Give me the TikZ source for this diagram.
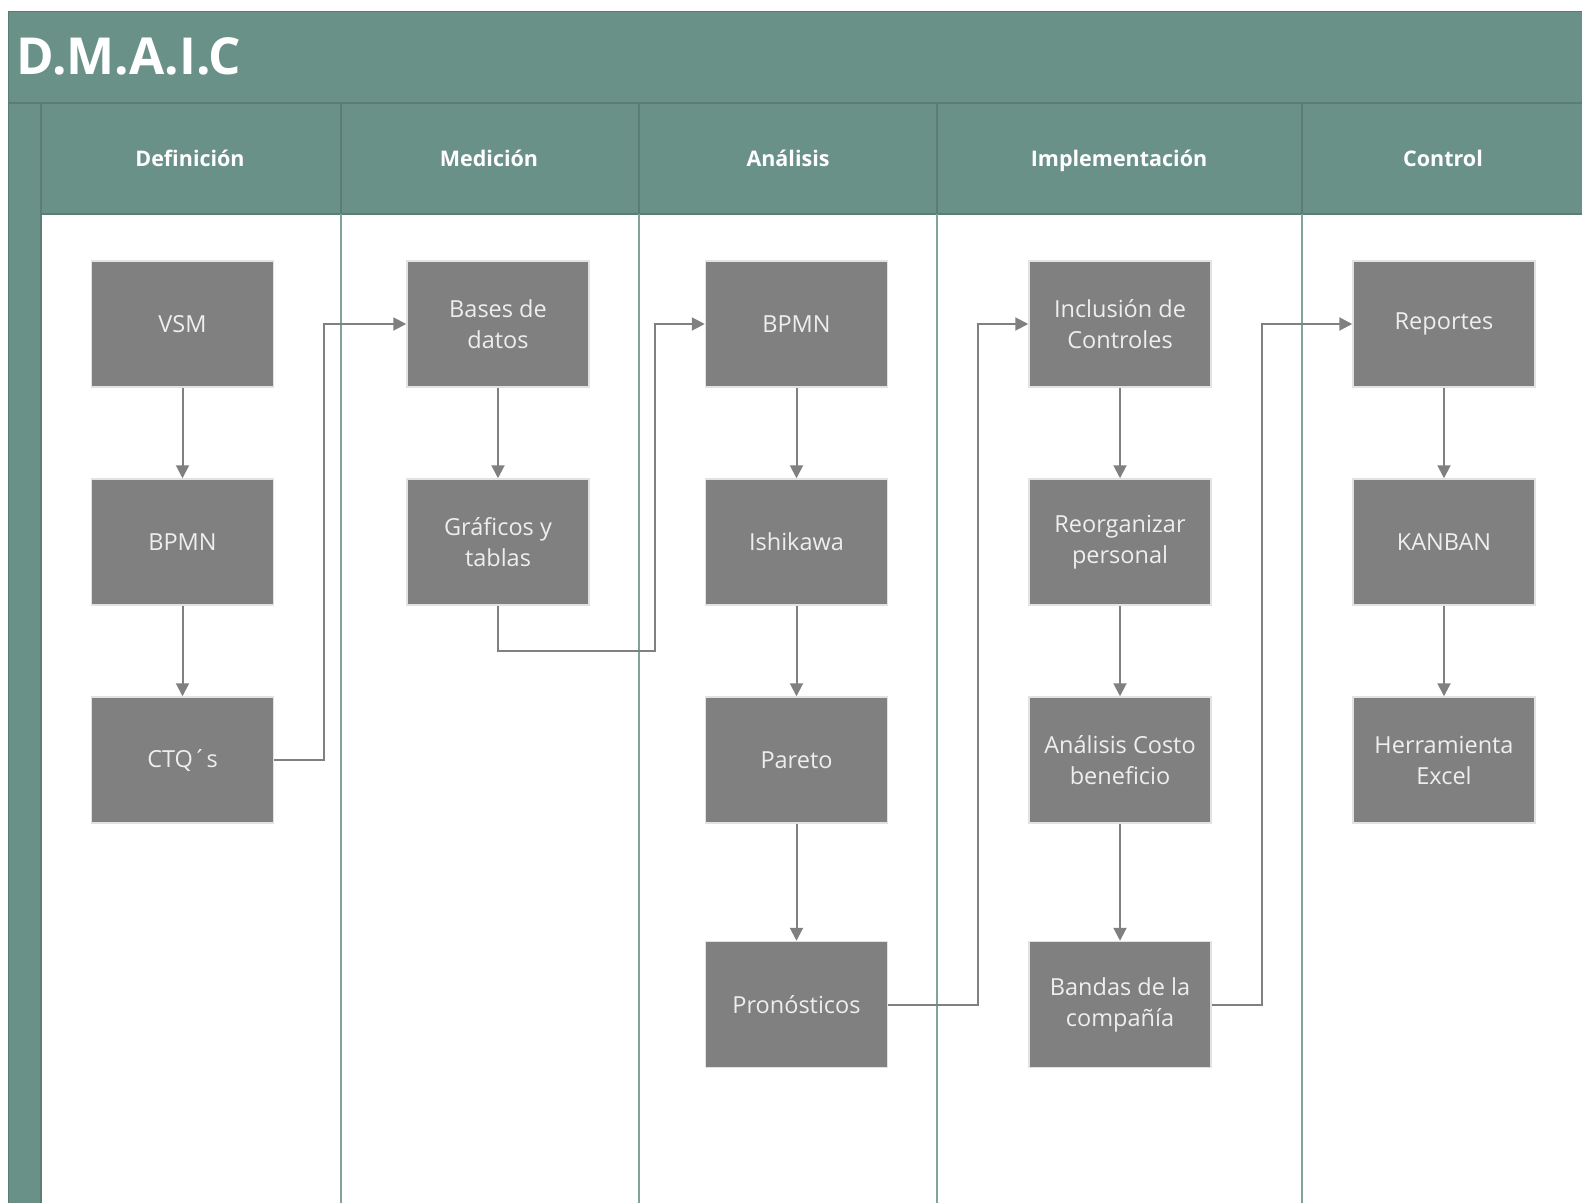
\documentclass[tikz,border=0pt]{standalone}
\usepackage{fontspec}
\setmainfont{Open Sans}
\usetikzlibrary{arrows.meta}

\definecolor{lanegreen}{RGB}{106,145,135}
\definecolor{lanegreendark}{RGB}{90,126,117}
\definecolor{laneline}{RGB}{128,164,155}
\definecolor{boxgray}{RGB}{128,128,128}
\definecolor{boxhalo}{RGB}{226,226,226}
\definecolor{boxtext}{RGB}{238,238,238}
\definecolor{wiregray}{RGB}{128,128,128}

\tikzset{
  stepbox/.style={draw=boxhalo, line width=1.5pt, fill=boxgray,
    minimum width=182pt, minimum height=126pt,
    inner sep=0pt, text=boxtext, align=center, font=\fontsize{23.5}{31}\selectfont},
  lanetitle/.style={text=white, anchor=base, font=\bfseries\fontsize{21.5}{24}\selectfont},
  wire/.style={draw=wiregray, line width=2pt},
  flow/.style={wire, -{Triangle[length=13pt,width=13pt]}},
  divider/.style={draw=laneline, line width=1.4pt},
}

\begin{document}
\begin{tikzpicture}[x=1pt,y=-1pt]
\useasboundingbox (0,0) rectangle (1582,1203);
\fill[white] (0,0) rectangle (1582,1203);

% pool frame: title band, header row and left strip
\fill[lanegreen] (8,11) rectangle (1582,103);
\fill[lanegreen] (8,103) rectangle (41,1203);
\fill[lanegreen] (41,103) rectangle (1582,214);
\draw[lanegreendark, line width=1pt] (1582,11) -- (8,11) -- (8,1203);
\draw[lanegreendark, line width=1.2pt] (8,103) -- (1582,103);
\draw[lanegreendark, line width=1.2pt] (41,103) -- (41,1203);
\draw[lanegreendark, line width=1.2pt] (41,214) -- (1582,214);

% lane separators
\foreach \x in {341,639,937,1302} {
  \draw[lanegreendark, line width=1.2pt] (\x,103) -- (\x,214);
  \draw[divider] (\x,214) -- (\x,1203);
}

\node[anchor=west, text=white, font=\bfseries\fontsize{51}{56}\selectfont] (title) at (13,56) {D.M.A.I.C};

\node[lanetitle] (h1) at (190,166) {Definición};
\node[lanetitle] (h2) at (489,166) {Medición};
\node[lanetitle] (h3) at (788,166) {Análisis};
\node[lanetitle] (h4) at (1119,166) {Implementación};
\node[lanetitle] (h5) at (1443,166) {Control};

% Definición
\node[stepbox] (vsm)   at (182.5,324) {VSM};
\node[stepbox] (bpmnA) at (182.5,542) {BPMN};
\node[stepbox] (ctq)   at (182.5,760) {CTQ´s};
% Medición
\node[stepbox] (bases)    at (498,324) {Bases de\\datos};
\node[stepbox] (graficos) at (498,542) {Gráficos y\\tablas};
% Análisis
\node[stepbox] (bpmnB)       at (796.5,324) {BPMN};
\node[stepbox] (ishikawa)    at (796.5,542) {Ishikawa};
\node[stepbox] (pareto)      at (796.5,760) {Pareto};
\node[stepbox] (pronosticos) at (796.5,1004.5) {Pronósticos};
% Implementación
\node[stepbox] (inclusion)   at (1120,324) {Inclusión de\\Controles};
\node[stepbox] (reorganizar) at (1120,542) {Reorganizar\\personal};
\node[stepbox] (analisis)    at (1120,760) {Análisis Costo\\beneficio};
\node[stepbox] (bandas)      at (1120,1004.5) {Bandas de la\\compañía};
% Control
\node[stepbox] (reportes) at (1444,324) {Reportes};
\node[stepbox] (kanban)   at (1444,542) {KANBAN};
\node[stepbox] (excel)    at (1444,760) {Herramienta\\Excel};

% flows inside each lane
\draw[flow] (vsm) -- (bpmnA);
\draw[flow] (bpmnA) -- (ctq);
\draw[flow] (bases) -- (graficos);
\draw[flow] (bpmnB) -- (ishikawa);
\draw[flow] (ishikawa) -- (pareto);
\draw[flow] (pareto) -- (pronosticos);
\draw[flow] (inclusion) -- (reorganizar);
\draw[flow] (reorganizar) -- (analisis);
\draw[flow] (analisis) -- (bandas);
\draw[flow] (reportes) -- (kanban);
\draw[flow] (kanban) -- (excel);

% flows between lanes
\coordinate (gturn) at (655,651);
\draw[flow] (ctq.east) -- ++(50,0) |- (bases.west);
\draw[flow] (graficos.south) |- (gturn) |- (bpmnB.west);
\draw[flow] (pronosticos.east) -- ++(90,0) |- (inclusion.west);
\draw[flow] (bandas.east) -- ++(50,0) |- (reportes.west);
\end{tikzpicture}
\end{document}
